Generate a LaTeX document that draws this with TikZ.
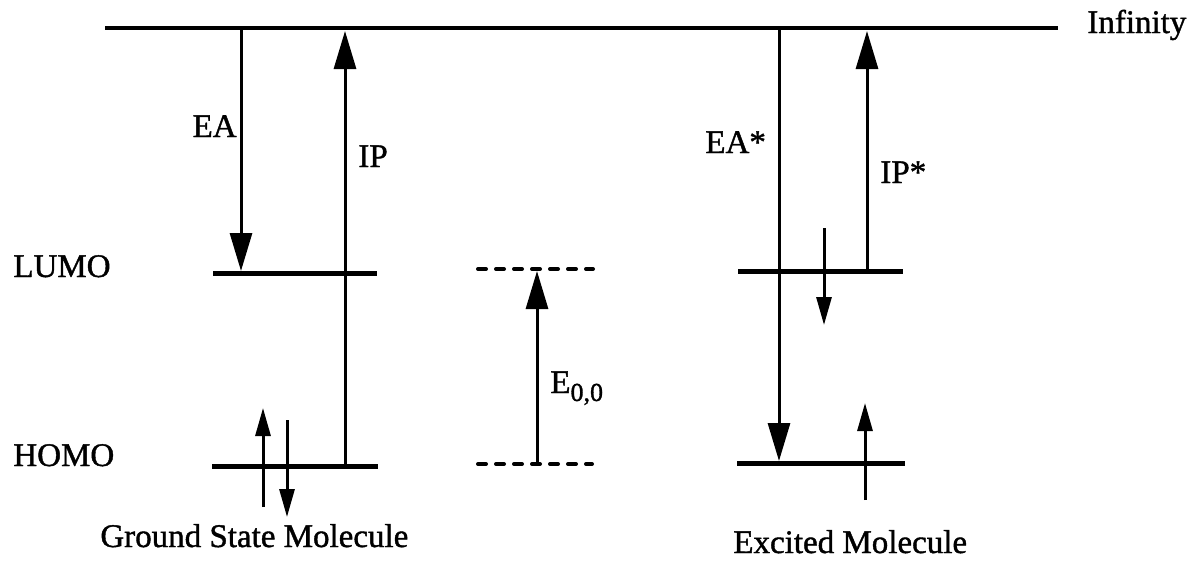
\documentclass[tikz,border=0pt]{standalone}
\usepackage{fontspec}
\setmainfont{Liberation Serif}[FakeBold=1.2]
\usetikzlibrary{arrows.meta}
\begin{document}
\begin{tikzpicture}[x=0.5pt,y=-0.5pt,
  lbl/.style={inner sep=0pt,font=\fontsize{16.5}{20}\selectfont},
  infline/.style={line width=2pt},
  level/.style={line width=2.5pt},
  dlevel/.style={line width=2pt,line cap=round,dash pattern=on 4pt off 5pt},
  bigarrow/.style={line width=1.5pt,-{Triangle[length=19pt,width=11pt]}},
  spinarrow/.style={line width=1.5pt,-{Triangle[length=14pt,width=7.5pt]}},
]
\useasboundingbox (0,0) rectangle (1190,562);
% infinity level
\coordinate (infL) at (105,28);
\coordinate (infR) at (1058,28);
\draw[infline] (infL) -- (infR);
\node[lbl,anchor=base west] (inf) at (1087,33) {Infinity};

% ground state molecule
\coordinate (gLl) at (213,273); \coordinate (gLr) at (377,273);
\coordinate (gHl) at (212,466); \coordinate (gHr) at (378,466);
\draw[level] (gLl) -- (gLr);
\draw[level] (gHl) -- (gHr);
\node[lbl,anchor=base west] (lumo) at (13,277) {LUMO};
\node[lbl,anchor=base west] (homo) at (13,466) {HOMO};
\coordinate (eaT) at (241,30); \coordinate (eaB) at (241,271);
\draw[bigarrow] (eaT) -- (eaB);
\node[lbl,anchor=base east] (ea) at (237,137) {EA};
\coordinate (ipB) at (345,466); \coordinate (ipT) at (345,31);
\draw[bigarrow] (ipB) -- (ipT);
\node[lbl,anchor=base west] (ip) at (358,167) {IP};
\coordinate (gu1) at (263,507); \coordinate (gu2) at (263,408);
\draw[spinarrow] (gu1) -- (gu2);
\coordinate (gd1) at (287,420); \coordinate (gd2) at (287,517);
\draw[spinarrow] (gd1) -- (gd2);
\node[lbl,anchor=base west] (gsm) at (100,547) {Ground State Molecule};

% E00
\coordinate (dLl) at (478,269); \coordinate (dLr) at (593,269);
\coordinate (dHl) at (478,464); \coordinate (dHr) at (592,464);
\draw[dlevel] (dLl) -- (dLr);
\draw[dlevel] (dHl) -- (dHr);
\coordinate (e0B) at (537,464); \coordinate (e0T) at (537,271);
\draw[bigarrow] (e0B) -- (e0T);
\node[lbl,anchor=base west] (e00) at (550,393) {E\raisebox{-4pt}{\fontsize{13}{15}\selectfont 0,0}};

% excited molecule
\coordinate (eLl) at (738,271); \coordinate (eLr) at (903,271);
\coordinate (eHl) at (737,463); \coordinate (eHr) at (905,463);
\draw[level] (eLl) -- (eLr);
\draw[level] (eHl) -- (eHr);
\coordinate (easT) at (779,30); \coordinate (easB) at (779,461);
\draw[bigarrow] (easT) -- (easB);
\node[lbl,anchor=base west] (eas) at (705,153) {EA*};
\coordinate (ipsB) at (867,271); \coordinate (ipsT) at (867,31);
\draw[bigarrow] (ipsB) -- (ipsT);
\node[lbl,anchor=base west] (ips) at (880,183) {IP*};
\coordinate (ed1) at (824,228); \coordinate (ed2) at (824,325);
\draw[spinarrow] (ed1) -- (ed2);
\coordinate (eu1) at (865,500); \coordinate (eu2) at (865,403);
\draw[spinarrow] (eu1) -- (eu2);
\node[lbl,anchor=base west] (exm) at (733,553) {Excited Molecule};
\end{tikzpicture}
\end{document}
